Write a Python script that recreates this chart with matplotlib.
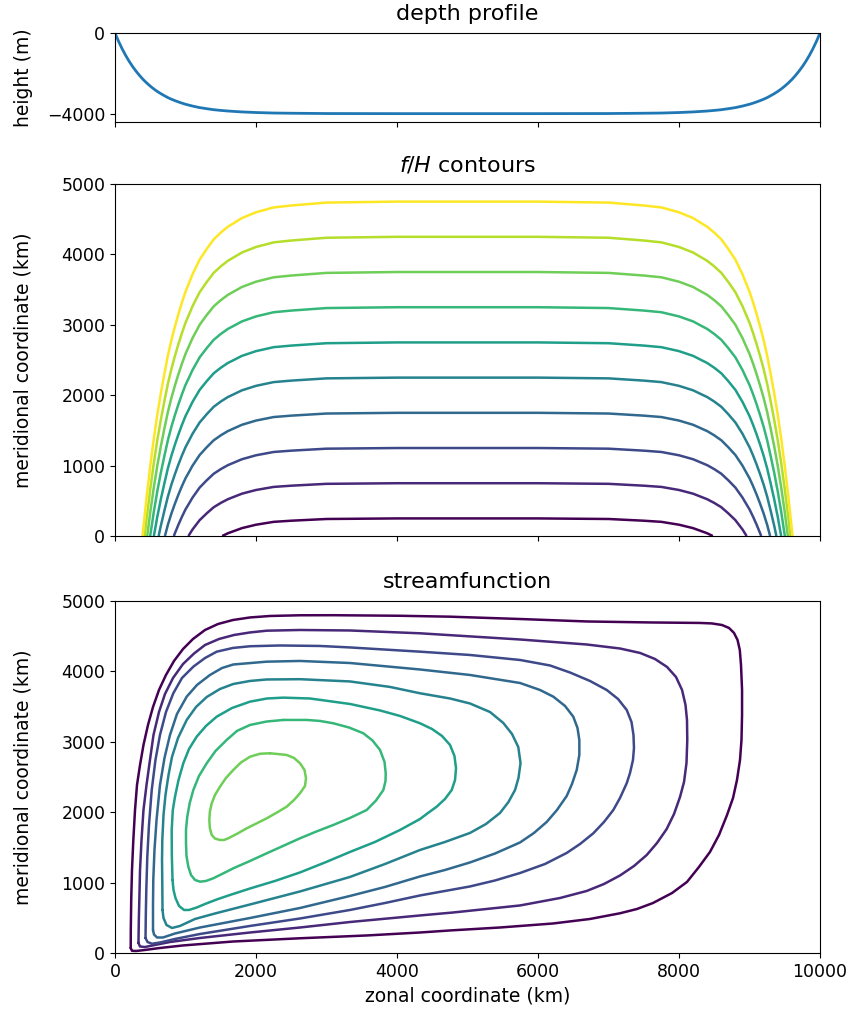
import numpy as np
import matplotlib
matplotlib.use("Agg")
import matplotlib.pyplot as plt

# depth profile (km, m)
depth_x = [0, 50, 100, 150, 200, 250, 300, 350, 400, 450, 500, 550, 600, 650, 700, 750, 800,
           850, 900, 950, 1000, 1100, 1200, 1300, 1400, 1500, 1600, 1800, 2000, 2250, 2500,
           3000, 4000, 5000, 6000, 7000, 7500, 7750, 8000, 8200, 8400, 8500, 8600, 8700,
           8800, 8900, 9000, 9050, 9100, 9150, 9200, 9250, 9300, 9350, 9400, 9450, 9500,
           9550, 9600, 9650, 9700, 9750, 9800, 9850, 9900, 9950, 10000]
depth = [0, -410, -775, -1105, -1400, -1665, -1900, -2115, -2310, -2480, -2635, -2775, -2900,
         -3010, -3110, -3205, -3285, -3355, -3420, -3480, -3535, -3625, -3700, -3755, -3805,
         -3840, -3870, -3915, -3945, -3970, -3980, -3995, -4000, -4000, -4000, -3995, -3980,
         -3970, -3945, -3915, -3870, -3840, -3805, -3755, -3700, -3625, -3535, -3480, -3420,
         -3355, -3285, -3205, -3110, -3010, -2900, -2775, -2635, -2480, -2310, -2115, -1900,
         -1665, -1400, -1105, -775, -410, 0]

# f = f0 + beta*y, contours of f/H picked where they sit in the flat interior (km)
f0 = 1e-4
beta = 1.6e-11
level_y = [250, 750, 1250, 1750, 2250, 2750, 3250, 3750, 4250, 4750]
H_flat = 4000

# streamfunction contours (km), outer -> inner
psi1_x = [223, 224, 230, 241, 260, 284, 312, 355, 404, 468, 539, 624, 723, 837, 965, 1106,
          1277, 1461, 1674, 1915, 2199, 2624, 3092, 4042, 4752, 5745, 6695, 7588, 8297, 8467,
          8609, 8709, 8780, 8830, 8862, 8879, 8894, 8894, 8886, 8865, 8822, 8766, 8681, 8567,
          8439, 8283, 8113, 7901, 7631, 7404, 7163, 6737, 6213, 5461, 4752, 4326, 3574, 2624,
          1674, 965, 638, 426, 298, 241, 223]
psi1_y = [71, 327, 753, 1179, 1605, 2031, 2386, 2671, 2955, 3239, 3494, 3736, 3949, 4148, 4318,
          4460, 4588, 4673, 4730, 4766, 4787, 4797, 4798, 4790, 4777, 4744, 4709, 4695, 4688,
          4681, 4659, 4617, 4546, 4446, 4304, 4091, 3736, 3381, 3026, 2742, 2457, 2202, 1960,
          1676, 1435, 1222, 1009, 852, 710, 625, 564, 483, 419, 362, 320, 291, 249, 209, 163,
          107, 71, 43, 28, 31, 71]
psi2_x = [333, 338, 345, 355, 376, 404, 447, 496, 546, 624, 709, 823, 965, 1121, 1277, 1475,
          1688, 1915, 2152, 2624, 3333, 4326, 5745, 6691, 7163, 7447, 7659, 7830, 7957, 8043,
          8092, 8113, 8117, 8106, 8071, 8014, 7929, 7825, 7688, 7542, 7362, 7163, 6936, 6691,
          6312, 5745, 4794, 4326, 3333, 2624, 1915, 1206, 780, 567, 426, 355, 333]
psi2_y = [142, 469, 753, 1179, 1605, 2031, 2386, 2742, 3097, 3423, 3679, 3906, 4105, 4254,
          4375, 4460, 4517, 4553, 4578, 4588, 4581, 4541, 4453, 4382, 4325, 4262, 4176, 4063,
          3921, 3736, 3523, 3310, 3026, 2699, 2429, 2216, 1974, 1761, 1563, 1392, 1236, 1101,
          980, 881, 781, 675, 575, 533, 440, 362, 291, 213, 156, 114, 85, 92, 142]
psi3_x = [433, 437, 444, 458, 482, 521, 574, 638, 723, 827, 950, 1111, 1277, 1443, 1674, 1915,
          2340, 2908, 3333, 4326, 5035, 5745, 6170, 6454, 6737, 6974, 7135, 7258, 7326, 7354,
          7361, 7347, 7305, 7258, 7163, 7068, 6936, 6784, 6596, 6407, 6099, 5745, 5390, 5035,
          4326, 3830, 3333, 2624, 1915, 1206, 851, 638, 525, 461, 433]
psi3_y = [213, 540, 895, 1364, 1818, 2315, 2742, 3097, 3423, 3689, 3906, 4067, 4190, 4280,
          4333, 4357, 4368, 4361, 4340, 4280, 4233, 4162, 4084, 3984, 3864, 3736, 3608, 3452,
          3281, 3097, 2912, 2742, 2557, 2411, 2202, 2031, 1861, 1700, 1548, 1421, 1264, 1136,
          1030, 945, 817, 710, 611, 490, 384, 270, 199, 149, 131, 156, 213]
psi4_x = [539, 539, 543, 560, 589, 638, 702, 780, 879, 1017, 1163, 1347, 1518, 1678, 2152, 2624,
          3333, 4326, 5035, 5745, 6028, 6217, 6383, 6500, 6560, 6586, 6586, 6549, 6482, 6407,
          6269, 6123, 5943, 5745, 5390, 5035, 4681, 4326, 3830, 3333, 2624, 1915, 1206, 851,
          681, 596, 553, 539]
psi4_y = [327, 682, 1037, 1463, 1889, 2386, 2770, 3097, 3395, 3641, 3807, 3949, 4048, 4098,
          4138, 4148, 4119, 4027, 3949, 3835, 3736, 3641, 3509, 3357, 3196, 3026, 2813, 2600,
          2401, 2230, 2031, 1861, 1705, 1570, 1413, 1286, 1179, 1087, 938, 810, 639, 497, 362,
          277, 220, 220, 263, 327]
psi5_x = [674, 671, 667, 671, 688, 716, 759, 808, 894, 1017, 1149, 1301, 1489, 1678, 1915, 2152,
          2624, 3333, 3901, 4326, 4752, 5035, 5319, 5508, 5631, 5720, 5752, 5723, 5674, 5581,
          5461, 5262, 5035, 4681, 4326, 3830, 3333, 2624, 1915, 1418, 1135, 922, 808, 730, 688,
          674]
psi5_y = [611, 966, 1321, 1605, 1960, 2244, 2528, 2784, 3054, 3310, 3494, 3636, 3750, 3821,
          3864, 3885, 3889, 3857, 3779, 3689, 3615, 3544, 3423, 3267, 3111, 2926, 2699, 2486,
          2315, 2145, 1989, 1832, 1705, 1577, 1463, 1264, 1080, 874, 689, 561, 483, 384, 355,
          398, 497, 611]
psi6_x = [816, 806, 804, 820, 851, 901, 969, 1050, 1159, 1291, 1443, 1660, 1915, 2156, 2387,
          2766, 3333, 3759, 4042, 4326, 4496, 4638, 4752, 4815, 4837, 4823, 4776, 4681, 4563,
          4440, 4326, 4042, 3688, 3333, 2979, 2624, 2269, 1915, 1631, 1443, 1277, 1159, 1050,
          979, 908, 858, 830, 816]
psi6_y = [1037, 1392, 1747, 2031, 2220, 2457, 2695, 2898, 3073, 3225, 3357, 3480, 3570, 3615,
          3627, 3615, 3537, 3445, 3367, 3263, 3182, 3083, 2955, 2798, 2624, 2457, 2315, 2188,
          2078, 1989, 1903, 1747, 1577, 1435, 1286, 1144, 1023, 916, 824, 760, 696, 646, 611,
          611, 668, 781, 895, 1037]
psi7_x = [2387, 2152, 1915, 1730, 1584, 1425, 1301, 1191, 1111, 1060, 1025, 1007, 1007, 1014,
          1040, 1078, 1135, 1206, 1291, 1394, 1532, 1678, 1915, 2152, 2383, 2624, 2858, 3096,
          3333, 3570, 3702, 3806, 3837, 3840, 3823, 3759, 3652, 3522, 3319, 3096, 2908, 2720,
          2387]
psi7_y = [3310, 3288, 3239, 3154, 3026, 2869, 2695, 2514, 2315, 2131, 1936, 1747, 1558, 1378,
          1226, 1108, 1037, 1013, 1023, 1061, 1129, 1203, 1307, 1416, 1520, 1629, 1726, 1818,
          1918, 2031, 2166, 2315, 2443, 2553, 2713, 2884, 3019, 3121, 3203, 3263, 3296, 3310,
          3310]
psi8_x = [2199, 2435, 2539, 2624, 2688, 2709, 2695, 2624, 2539, 2435, 2298, 2152, 2007, 1868,
          1738, 1607, 1546, 1489, 1418, 1372, 1345, 1338, 1345, 1372, 1418, 1489, 1574, 1678,
          1787, 1915, 2057, 2199]
psi8_y = [2837, 2813, 2770, 2695, 2600, 2482, 2372, 2269, 2173, 2078, 1996, 1913, 1840, 1771,
          1697, 1629, 1605, 1605, 1626, 1676, 1776, 1889, 2003, 2126, 2244, 2362, 2486, 2600,
          2706, 2788, 2830, 2837]

psi_x = [psi1_x, psi2_x, psi3_x, psi4_x, psi5_x, psi6_x, psi7_x, psi8_x]
psi_y = [psi1_y, psi2_y, psi3_y, psi4_y, psi5_y, psi6_y, psi7_y, psi8_y]

plt.rcParams['font.size'] = 12.5

fig = plt.figure(figsize=(8.55, 10.15), dpi=100)
ax1 = fig.add_axes([0.1345, 0.8801, 0.8246, 0.0874])
ax2 = fig.add_axes([0.1345, 0.4719, 0.8246, 0.3468], sharex=ax1)
ax3 = fig.add_axes([0.1345, 0.0611, 0.8246, 0.3468], sharex=ax1)

# depth profile
ax1.plot(depth_x, depth, color='C0', lw=2)
ax1.set_ylim(-4400, 0)
ax1.set_yticks([0, -4000])
ax1.set_ylabel('height (m)', fontsize=13.5)
ax1.set_title('depth profile', fontsize=16, pad=9)

# f/H
X, Y = np.meshgrid(np.array(depth_x, dtype=float), np.linspace(0, 5000, 51))
Hd = -np.array(depth, dtype=float)[None, :] * np.ones_like(Y)
with np.errstate(divide='ignore', invalid='ignore'):
    q = (f0 + beta * Y * 1e3) / Hd
q = np.ma.masked_invalid(q)
levels = [(f0 + beta * yk * 1e3) / H_flat for yk in level_y]
ax2.contour(X, Y, q, levels=levels, cmap='viridis', linewidths=1.8)
ax2.set_ylim(0, 5000)
ax2.set_ylabel('meridional coordinate (km)', fontsize=13.5)
ax2.set_title(r'$f/H$ contours', fontsize=16, pad=9)

# streamfunction
cols = plt.cm.viridis(np.arange(len(psi_x)) / 9)
for i in range(len(psi_x)):
    ax3.plot(psi_x[i], psi_y[i], color=cols[i], lw=1.8,
             solid_capstyle='round', solid_joinstyle='round')
ax3.set_ylim(0, 5000)
ax3.set_xlim(0, 10000)
ax3.set_ylabel('meridional coordinate (km)', fontsize=13.5)
ax3.set_xlabel('zonal coordinate (km)', fontsize=13.5)
ax3.set_title('streamfunction', fontsize=16, pad=9)
ax3.set_xticks([0, 2000, 4000, 6000, 8000, 10000])

ax1.tick_params(labelbottom=False)
ax2.tick_params(labelbottom=False)
for ax in [ax1, ax2, ax3]:
    ax.yaxis.set_label_coords(-0.117, 0.5)

fig.savefig('out.png', dpi=100)
